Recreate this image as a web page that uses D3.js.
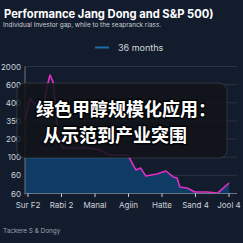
<!DOCTYPE html>
<html>
<head>
<meta charset="utf-8">
<script src="https://cdn.jsdelivr.net/npm/d3@7"></script>
<style>
  html, body { margin: 0; padding: 0; background: #131c2c; }
  svg { display: block; font-family: Inter, "Liberation Sans", sans-serif; }
</style>
</head>
<body>
<div id="chart"></div>
<script>
// tick labels, bottom to top (the y axis is spaced evenly by label)
const yTickLabels = ['60', '60', '100', '200', '350', '400', '600', '2000'];
const xTickLabels = ['Sur F2', 'Rabi 2', 'Manal', 'Agiin', 'Hatte', 'Sand 4', 'Jool 4'];
const xTickMonths = [0, 6, 12, 18, 24, 30, 36];

// series: month position and value on the label scale (0 = lowest tick)
const months = [-0.54, 0.36, 1.25, 2.51, 3.4, 3.94, 4.48, 5.02, 5.37, 6.27, 8.42, 11.1, 12.9, 14.7,
  17.9, 19.3, 20.2, 21.1, 23.1, 24.7, 26.0, 26.7, 27.2, 28.5, 29.9, 32.0, 34.0, 36.0];
const values = [4.05, 5.26, 4.88, 4.33, 5.87, 6.53, 6.15, 4.6, 2.95, 2.51, 2.51, 2.51, 2.4, 2.12,
  2.12, 1.3, 1.4, 0.96, 1.07, 1.24, 0.91, 0.85, 0.36, 0.3, 0.08, 0.08, 0.03, 0.58];

const titleLines = ['绿色甲醇规模化应用：', '从示范到产业突围'];

const width = 243, height = 243;
const margin = { left: 25, right: 6, top: 66.5, bottom: 49.5 };

const svg = d3.select('#chart').append('svg')
  .attr('width', width)
  .attr('height', height);

svg.append('rect').attr('width', width).attr('height', height).attr('fill', '#131c2c');

// Title + subtitle
svg.append('text')
  .attr('x', 4).attr('y', 18)
  .attr('fill', '#ffffff')
  .style('font-size', '11.2px')
  .style('font-weight', 700)
  .text('Performance Jang Dong and S&P 500)');

svg.append('text')
  .attr('x', 3).attr('y', 27)
  .attr('fill', '#c9ced6')
  .style('font-size', '6.4px')
  .text('Individual Investor gap, while to the seapranck riass.');

// Legend
svg.append('line')
  .attr('x1', 95).attr('x2', 109).attr('y1', 47.5).attr('y2', 47.5)
  .attr('stroke', '#1f6cab').attr('stroke-width', 2);
svg.append('text')
  .attr('x', 118).attr('y', 51)
  .attr('fill', '#d3d7de')
  .style('font-size', '9px')
  .text('36 months');

const x = d3.scaleLinear()
  .domain([0, 36])
  .range([28, 229]);

const y = d3.scaleLinear()
  .domain([0, yTickLabels.length - 1])
  .range([height - margin.bottom, margin.top]);

const xMin = margin.left, xMax = width - margin.right;

// Gridlines
svg.append('g')
  .selectAll('line')
  .data(d3.range(1, yTickLabels.length))
  .enter().append('line')
  .attr('x1', xMin).attr('x2', xMax)
  .attr('y1', d => y(d)).attr('y2', d => y(d))
  .attr('stroke', '#ffffff')
  .attr('stroke-opacity', 0.1)
  .attr('stroke-width', 1);

const data = months.map((m, i) => ({ m, v: values[i] }));

// Area fill, capped at the "100" gridline
svg.append('clipPath').attr('id', 'cap')
  .append('rect')
  .attr('x', xMin).attr('width', xMax - xMin)
  .attr('y', y(2)).attr('height', y(0) - y(2));

const area = d3.area()
  .x(d => x(d.m))
  .y0(y(0))
  .y1(d => y(d.v));

svg.append('path')
  .datum(data)
  .attr('d', area)
  .attr('fill', '#0f3c64')
  .attr('clip-path', 'url(#cap)');

// Line
const line = d3.line()
  .x(d => x(d.m))
  .y(d => y(d.v));

svg.append('path')
  .datum(data)
  .attr('d', line)
  .attr('fill', 'none')
  .attr('stroke', '#e02ec6')
  .attr('stroke-width', 1.6)
  .attr('stroke-linejoin', 'round');

// Axes
svg.append('line')
  .attr('x1', xMin).attr('x2', xMin)
  .attr('y1', y(yTickLabels.length - 1)).attr('y2', y(0) + 1)
  .attr('stroke', '#6b7585').attr('stroke-width', 1);
svg.append('line')
  .attr('x1', xMin).attr('x2', xMax)
  .attr('y1', y(0)).attr('y2', y(0))
  .attr('stroke', '#6b7585').attr('stroke-width', 1.2);

svg.append('g')
  .selectAll('text')
  .data(yTickLabels)
  .enter().append('text')
  .attr('x', 21)
  .attr('y', (d, i) => y(i) + 3)
  .attr('text-anchor', 'end')
  .attr('fill', '#cdd2da')
  .style('font-size', '8px')
  .text(d => d);

const xt = svg.append('g');
xt.selectAll('line')
  .data(xTickMonths)
  .enter().append('line')
  .attr('x1', d => x(d)).attr('x2', d => x(d))
  .attr('y1', y(0)).attr('y2', y(0) + 3.5)
  .attr('stroke', '#c8cdd5').attr('stroke-width', 1);
xt.selectAll('text')
  .data(xTickLabels)
  .enter().append('text')
  .attr('x', (d, i) => x(xTickMonths[i]))
  .attr('y', 208)
  .attr('text-anchor', 'middle')
  .attr('fill', '#cdd2da')
  .style('font-size', '8px')
  .text(d => d);

// Source
svg.append('text')
  .attr('x', 3).attr('y', 233)
  .attr('fill', '#9aa1ac')
  .style('font-size', '6.4px')
  .text('Tackere S & Dongy');

// Overlay headline box
svg.append('rect')
  .attr('x', 17).attr('y', 83)
  .attr('width', 210).attr('height', 75)
  .attr('rx', 8)
  .attr('fill', '#121418')
  .attr('fill-opacity', 0.86)
  .attr('stroke', '#ffffff')
  .attr('stroke-opacity', 0.12);

svg.append('g')
  .selectAll('text')
  .data(titleLines)
  .enter().append('text')
  .attr('x', (d, i) => i === 0 ? 36 : 43)
  .attr('y', (d, i) => i === 0 ? 116 : 142)
  .attr('fill', '#ffffff')
  .attr('stroke', '#000000')
  .attr('stroke-width', 3)
  .attr('stroke-opacity', 0.7)
  .attr('paint-order', 'stroke')
  .style('font-family', '"Noto Sans CJK SC", sans-serif')
  .style('font-size', '18px')
  .style('font-weight', 700)
  .text(d => d);
</script>
</body>
</html>
